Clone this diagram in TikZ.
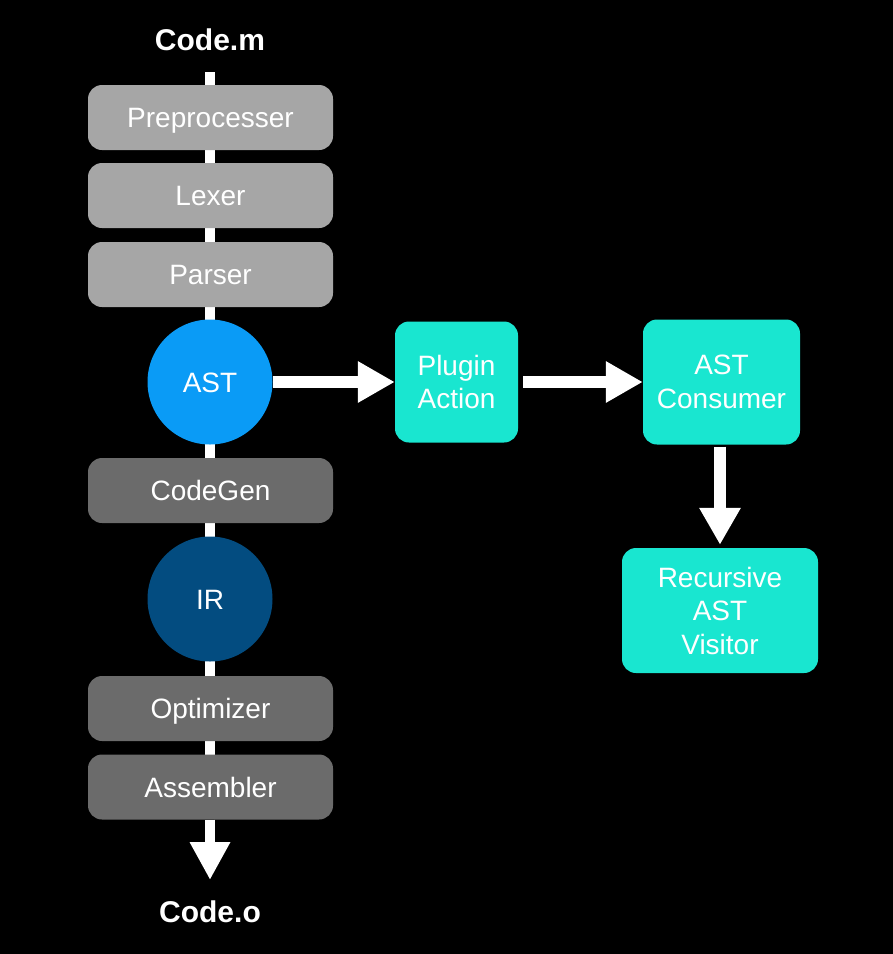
\documentclass[tikz,border=0pt]{standalone}
\usepackage{fontspec}
\setmainfont{Liberation Sans}
\usetikzlibrary{arrows.meta}
\definecolor{lgray}{HTML}{A6A6A6}
\definecolor{dgray}{HTML}{6B6B6B}
\definecolor{astblue}{HTML}{0A9BF6}
\definecolor{irblue}{HTML}{034C80}
\definecolor{cyanbox}{HTML}{19E6D0}
\begin{document}
\begin{tikzpicture}[x=1pt,y=-1pt,
  stage/.style={rounded corners=14pt,minimum width=245pt,minimum height=65pt,inner sep=0pt,text=white,font=\fontsize{28}{33}\selectfont,text height=20pt,text depth=0pt},
  light/.style={stage,fill=lgray},
  dark/.style={stage,fill=dgray},
  circ/.style={circle,minimum size=125pt,inner sep=0pt,text=white,font=\fontsize{28}{33}\selectfont,text height=20pt,text depth=0pt},
  cbox/.style={rounded corners=14pt,fill=cyanbox,inner sep=0pt,text=white,align=center,font=\fontsize{28}{33.5}\selectfont},
  title/.style={text=white,font=\fontsize{30}{33}\selectfont\bfseries},
  pipe/.style={draw=white,line width=10pt},
  bigarrow/.style={draw=white,line width=12pt,-{Triangle[width=39pt,length=37pt]}}
]
\fill[black] (0,0) rectangle (893,954);
\useasboundingbox (0,0) rectangle (893,954);

\node[title] (codem) at (210,40) {Code.m};
\coordinate (top) at (210,72);
\coordinate (bot) at (210,880);

% pipe (behind nodes)
\draw[pipe] (top) -- (210,800);

\node[light] (pre) at (210.5,117.5) {Preprocesser};
\node[light] (lex) at (210.5,195.5) {Lexer};
\node[light] (par) at (210.5,274.5) {Parser};
\node[circ,fill=astblue] (ast) at (210,382) {AST};
\node[dark] (cg) at (210.5,490.5) {CodeGen};
\node[circ,fill=irblue] (ir) at (210,599) {IR};
\node[dark] (opt) at (210.5,708.5) {Optimizer};
\node[dark] (asm) at (210.5,787) {Assembler};

\draw[draw=white,line width=10pt,-{Triangle[width=38pt,length=38pt]}] (asm.south -| bot) -- (bot);
\node[title] (codeo) at (210,912) {Code.o};

\node[cbox,minimum width=123pt,minimum height=121pt] (plugin) at (456.5,382) {Plugin\\Action};
\node[cbox,minimum width=157pt,minimum height=125pt] (cons) at (721.5,382) {AST\\Consumer};
\node[cbox,minimum width=196pt,minimum height=125pt] (vis) at (720,610.5) {Recursive\\AST\\Visitor};

\draw[bigarrow] (ast.east) -- (plugin.west);
\draw[bigarrow,shorten <=5pt] (plugin.east) -- (cons.west);
\draw[bigarrow,shorten <=2pt,shorten >=3pt] (cons.south -| vis.north) -- (vis.north);
\end{tikzpicture}
\end{document}
